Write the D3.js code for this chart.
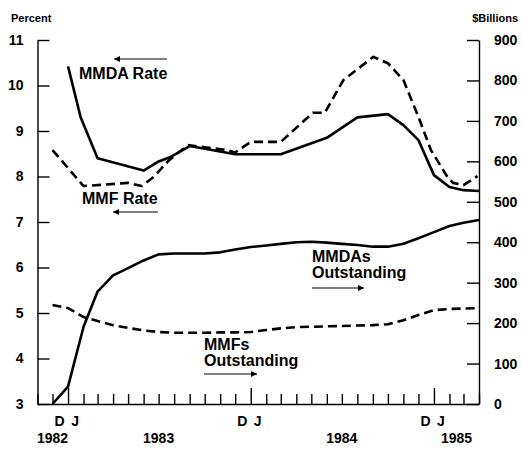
<!DOCTYPE html>
<html>
<head>
<meta charset="utf-8">
<script src="https://cdn.jsdelivr.net/npm/d3@7"></script>
<style>
  body { margin: 0; background: #fff; }
  svg text { font-family: "Liberation Sans", Arial, Helvetica, sans-serif; font-weight: bold; fill: #000; }
</style>
</head>
<body>
<div id="chart"></div>
<script>
// month-start dates for the outstanding series ($ billions, right axis)
var outMonths = ['1982-12','1983-01','1983-02','1983-03','1983-04','1983-05','1983-06','1983-07',
  '1983-08','1983-09','1983-10','1983-11','1983-12','1984-01','1984-02','1984-03','1984-04',
  '1984-05','1984-06','1984-07','1984-08','1984-09','1984-10','1984-11','1984-12','1985-01',
  '1985-02','1985-03','1985-04'];
var mmdaOut = [0, 43, 191, 278, 318, 336, 355, 370, 372, 372, 372, 375, 382, 388, 392, 396, 400,
  401, 399, 396, 393, 389, 389, 396, 410, 425, 440, 448, 455];
var mmfOut = [245, 237, 215, 205, 195, 188, 182, 178, 176, 176, 176, 177, 177, 178, 183, 187, 190,
  191, 192, 193, 194, 195, 197, 207, 220, 232, 235, 236, 237];

// rates (percent, left axis)
var mmdaRateDates = ['1983-01-01','1983-01-26','1983-03-01','1983-06-01','1983-07-01','1983-07-25',
  '1983-09-01','1983-12-01','1984-03-01','1984-06-01','1984-08-01','1984-10-01','1984-11-01',
  '1984-12-01','1985-01-01','1985-02-01','1985-03-01','1985-04-01'];
var mmdaRate = [10.42, 9.31, 8.40, 8.13, 8.33, 8.43, 8.67, 8.49, 8.49, 8.85, 9.30, 9.37, 9.13,
  8.80, 8.03, 7.77, 7.70, 7.68];
var mmfRateDates = ['1982-12-01','1983-02-01','1983-03-13','1983-05-01','1983-05-28','1983-06-21',
  '1983-07-22','1983-08-28','1983-11-15','1983-12-01','1984-01-01','1984-03-01','1984-05-04',
  '1984-05-28','1984-07-04','1984-09-02','1984-10-01','1984-11-01','1984-12-01','1984-12-26',
  '1985-01-28','1985-02-08','1985-03-01','1985-03-29'];
var mmfRate = [8.58, 7.79, 7.82, 7.86, 7.79, 7.99, 8.36, 8.69, 8.58, 8.53, 8.76, 8.76, 9.40,
  9.40, 10.12, 10.63, 10.49, 10.12, 9.31, 8.58, 7.99, 7.86, 7.81, 8.01];

var leftTicks = [3, 4, 5, 6, 7, 8, 9, 10, 11];
var rightTicks = [0, 100, 200, 300, 400, 500, 600, 700, 800, 900];
var monthLabels = [['1982-12-15','D'],['1983-01-15','J'],['1983-12-15','D'],['1984-01-15','J'],
  ['1984-12-15','D'],['1985-01-15','J']];
var yearLabels = [['1982-12-01','1982'],['1983-07-01','1983'],['1984-07-01','1984'],['1985-02-15','1985']];

var visW = 522, visH = 451;
var plotL = 37.5, plotR = 479, plotT = 40, plotB = 404;

var parseDay = d3.timeParse('%Y-%m-%d');
var parseMonth = d3.timeParse('%Y-%m');

var svg = d3.select('#chart').append('svg')
  .attr('width', visW).attr('height', visH);

var x = d3.scaleTime()
  .domain([parseDay('1982-11-01'), parseDay('1985-04-01')])
  .range([plotL, plotR]);
var yL = d3.scaleLinear().domain([3, 11]).range([plotB, plotT]);
var yR = d3.scaleLinear().domain([0, 900]).range([plotB, plotT]);

/* axes */
var axisStyle = function(g) {
  g.attr('font-family', null).attr('font-size', null);
  g.selectAll('path, line').attr('stroke', '#000').attr('stroke-width', 1.4);
  g.selectAll('text').attr('font-size', 14);
};

svg.append('g')
  .attr('transform', 'translate(' + plotL + ',0)')
  .call(d3.axisLeft(yL).tickValues(leftTicks).tickSize(-12).tickSizeOuter(0).tickPadding(14))
  .call(axisStyle);

svg.append('g')
  .attr('transform', 'translate(' + plotR + ',0)')
  .call(d3.axisRight(yR).tickValues(rightTicks).tickSize(-12).tickSizeOuter(0).tickPadding(15))
  .call(axisStyle);

var xAxis = svg.append('g')
  .attr('transform', 'translate(0,' + plotB + ')')
  .call(d3.axisBottom(x).ticks(d3.timeMonth.every(1)).tickFormat('').tickSize(-10).tickSizeOuter(0))
  .call(axisStyle);
xAxis.selectAll('.tick line')
  .attr('y2', function(d) { return d.getMonth() === 0 ? -16 : -10; });

svg.selectAll('.mlab').data(monthLabels).enter().append('text')
  .attr('x', function(d) { return x(parseDay(d[0])); })
  .attr('y', 426)
  .attr('text-anchor', 'middle')
  .attr('font-size', 14)
  .text(function(d) { return d[1]; });

svg.selectAll('.ylab').data(yearLabels).enter().append('text')
  .attr('x', function(d) { return x(parseDay(d[0])); })
  .attr('y', 443)
  .attr('text-anchor', 'middle')
  .attr('font-size', 14)
  .text(function(d) { return d[1]; });

svg.append('text').attr('x', 11).attr('y', 22).attr('font-size', 11).text('Percent');
svg.append('text').attr('x', 518).attr('y', 22).attr('text-anchor', 'end')
  .attr('font-size', 11).text('$Billions');

/* lines */
var drawLine = function(dates, values, parse, y, dashed) {
  var pts = dates.map(function(d, i) { return [x(parse(d)), y(values[i])]; });
  svg.append('path')
    .attr('d', d3.line()(pts))
    .attr('fill', 'none')
    .attr('stroke', '#000')
    .attr('stroke-width', 2.6)
    .attr('stroke-linejoin', 'round')
    .attr('stroke-dasharray', dashed ? '9,5' : null);
};

drawLine(outMonths, mmdaOut, parseMonth, yR, false);
drawLine(outMonths, mmfOut, parseMonth, yR, true);
drawLine(mmdaRateDates, mmdaRate, parseDay, yL, false);
drawLine(mmfRateDates, mmfRate, parseDay, yL, true);

/* annotations */
svg.append('defs').append('marker')
  .attr('id', 'head')
  .attr('viewBox', '0 0 10 10')
  .attr('refX', 10).attr('refY', 5)
  .attr('markerWidth', 10).attr('markerHeight', 6)
  .attr('markerUnits', 'userSpaceOnUse')
  .attr('orient', 'auto')
  .append('path').attr('d', 'M0,0L10,5L0,10Z').attr('fill', '#000');

var arrow = function(x1, x2, yy) {
  svg.append('line')
    .attr('x1', x1).attr('x2', x2).attr('y1', yy).attr('y2', yy)
    .attr('stroke', '#000').attr('stroke-width', 1.2)
    .attr('marker-end', 'url(#head)');
};

var label = function(lines, lx, ly) {
  lines.forEach(function(t, i) {
    svg.append('text').attr('x', lx).attr('y', ly + i * 16)
      .attr('font-size', 16).text(t);
  });
};

label(['MMDA Rate'], 79, 79);
arrow(167, 114, 59);
label(['MMF Rate'], 82, 204);
arrow(158, 113, 212);
label(['MMDAs', 'Outstanding'], 312, 262);
arrow(312, 364, 288);
label(['MMFs', 'Outstanding'], 204, 350);
arrow(204, 257, 374);
</script>
</body>
</html>
